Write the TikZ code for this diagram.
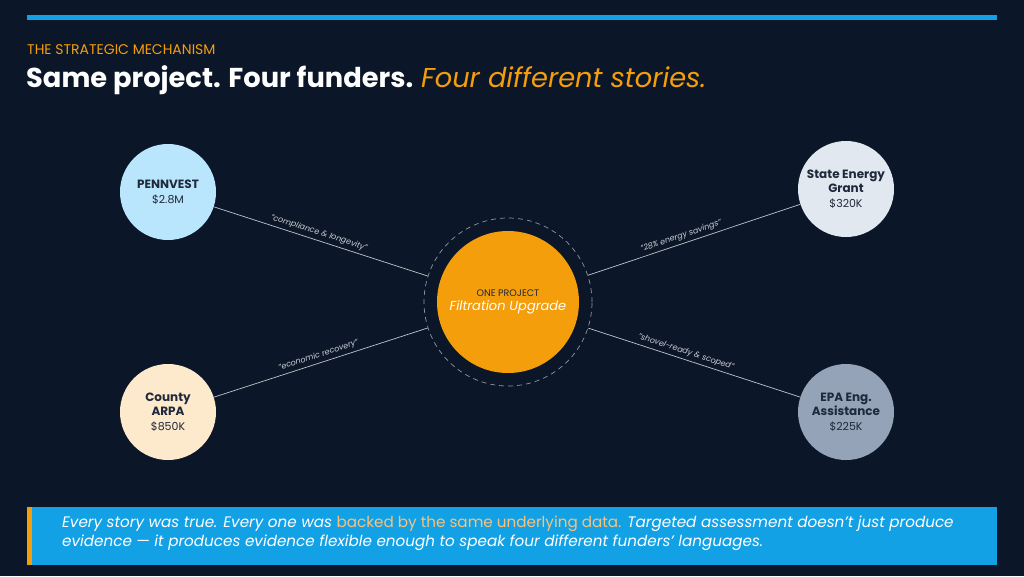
\documentclass[tikz,border=0pt]{standalone}
\usepackage{fontspec}
\setmainfont{Poppins}
\usetikzlibrary{calc}
\definecolor{bg}{HTML}{0B1628}
\definecolor{bar}{HTML}{13A1E6}
\definecolor{org}{HTML}{F59E0B}
\definecolor{lorg}{HTML}{F7C27C}
\definecolor{penn}{HTML}{BAE6FD}
\definecolor{cty}{HTML}{FDE9CC}
\definecolor{st}{HTML}{E2E8F0}
\definecolor{epa}{HTML}{94A3B8}
\definecolor{ink}{HTML}{1E293B}
\tikzset{
 x=1pt,y=-1pt,
 funder/.style={circle,minimum size=96pt,inner sep=0pt,align=center,text=ink,font=\fontsize{12}{14.5}\selectfont\bfseries},
 link/.style={draw=white!75!bg,line width=0.7pt},
 lab/.style={text=white!80!bg,font=\fontsize{8}{9}\selectfont\itshape,inner sep=1pt}
}
\begin{document}
\begin{tikzpicture}
\fill[bg] (0,0) rectangle (1024,576);
\useasboundingbox (0,0) rectangle (1024,576);
\fill[bar] (27,15) rectangle (997,19.5);
\node[anchor=west,text=org,font=\fontsize{14}{16}\selectfont,inner sep=0] (sub) at (27,50) {THE STRATEGIC MECHANISM};
\node[anchor=west,text=white,font=\fontsize{27.3}{30}\selectfont\bfseries,inner sep=0] (title) at (26,80) {Same project. Four funders. \textcolor{org}{\mdseries\itshape Four different stories.}};
% center
\node[circle,draw=white!55!bg,dashed,dash pattern=on 5pt off 4pt,line width=0.7pt,minimum size=168pt,inner sep=0] (ring) at (508,302) {};
\node[circle,fill=org,minimum size=142pt,inner sep=0,align=center] (core) at (508,302) {{\fontsize{9.5}{11}\selectfont\color{ink}ONE PROJECT}\\[2pt]{\fontsize{13}{15}\selectfont\itshape\color{white}Filtration Upgrade}};
\node[funder,fill=penn] (penn) at (168,192) {PENNVEST\\{\mdseries\fontsize{11}{14}\selectfont \$2.8M}};
\node[funder,fill=cty] (cty) at (168,412) {County\\ARPA\\{\mdseries\fontsize{11}{14}\selectfont \$850K}};
\node[funder,fill=st] (st) at (846,189) {State Energy\\Grant\\{\mdseries\fontsize{11}{14}\selectfont \$320K}};
\node[funder,fill=epa] (epa) at (846,412) {EPA Eng.\\Assistance\\{\mdseries\fontsize{11}{14}\selectfont \$225K}};
\draw[link] (penn) -- (ring) node[lab,pos=0.48,sloped,above=2pt] (l1) {"compliance \& longevity"};
\draw[link] (cty) -- (ring) node[lab,pos=0.5,sloped,above=2pt] (l2) {"economic recovery"};
\draw[link] (ring) -- (st) node[lab,pos=0.45,sloped,above=2pt] (l3) {"28\% energy savings"};
\draw[link] (ring) -- (epa) node[lab,pos=0.45,sloped,above=2pt] (l4) {"shovel-ready \& scoped"};
% bottom box
\fill[bar] (27,507) rectangle (997,565);
\fill[org] (27,507) rectangle (32,565);
\node[anchor=north west,text=white,font=\fontsize{15.2}{18.5}\selectfont\itshape,inner sep=0,align=left] (note) at (62,516) {Every story was true. Every one was \textcolor{lorg}{\upshape backed by the same underlying data.} Targeted assessment doesn't just produce\\evidence — it produces evidence flexible enough to speak four different funders' languages.};
\end{tikzpicture}
\end{document}
